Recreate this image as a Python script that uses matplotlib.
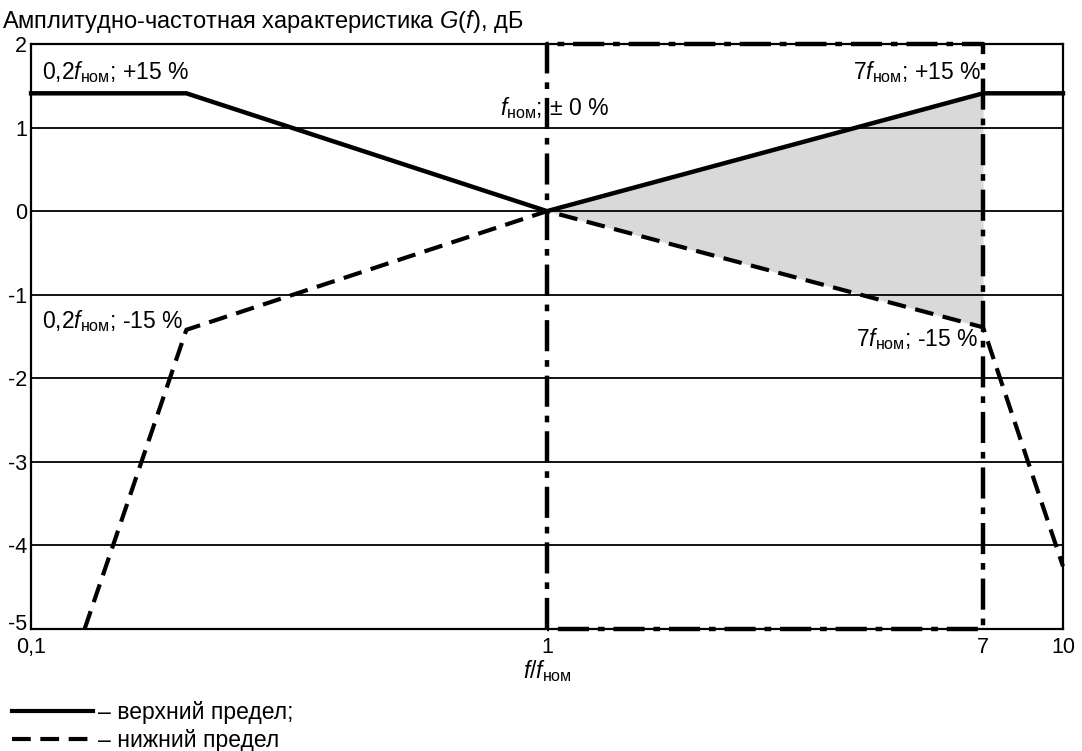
import matplotlib
matplotlib.use("Agg")
import matplotlib.pyplot as plt
import matplotlib.transforms as mtransforms
from matplotlib.lines import Line2D

plt.rcParams['font.family'] = ['Liberation Sans', 'DejaVu Sans']
plt.rcParams['mathtext.fontset'] = 'custom'
plt.rcParams['mathtext.rm'] = 'Liberation Sans'
plt.rcParams['mathtext.it'] = 'Liberation Sans:italic'

# data
upper_x = [0.1, 0.2, 1, 7, 10]
upper_y = [1.41, 1.41, 0, 1.41, 1.41]
lower_x = [0.127, 0.2, 1, 7, 10]
lower_y = [-5, -1.42, 0, -1.39, -4.25]
band_x = [1, 7]
band_hi = [0, 1.41]
band_lo = [0, -1.39]
box_x = [1, 1, 7, 7, 1]
box_y = [-5, 2, 2, -5, -5]
xticks = [0.1, 1, 7, 10]
xticklabels = ['0,1', '1', '7', '10']
yticks = [2, 1, 0, -1, -2, -3, -4, -5]
yticklabels = ['2', '1', '0', '-1', '-2', '-3', '-4', '-5']

F = r'$\mathit{f}_{\mathrm{ном}}$'
DASH = (0, (4.5, 2.3))

fig = plt.figure(figsize=(10.82, 7.51), dpi=100)
ax = fig.add_axes([0.0287, 0.1625, 0.9537, 0.7789])
ax.set_xscale('log')
ax.set_xlim(0.1, 10)
ax.set_ylim(-5, 2)

for y in yticks[1:-1]:
    ax.axhline(y, color='black', lw=1.3, zorder=1)

ax.fill_between(band_x, band_lo, band_hi, color='#d9d9d9', lw=0, zorder=0)
ax.plot(box_x, box_y, color='black', lw=3.2, ls=(0, (7, 2.0, 1.5, 2.0)),
        zorder=3, clip_on=False)
ax.plot(upper_x, upper_y, color='black', lw=3.2, zorder=4, clip_on=False)
ax.plot(lower_x, lower_y, color='black', lw=3, ls=DASH, zorder=4,
        clip_on=False)

for s in ax.spines.values():
    s.set_linewidth(1.6)
ax.set_xticks(xticks)
ax.set_xticklabels(xticklabels)
ax.xaxis.set_minor_locator(matplotlib.ticker.NullLocator())
ax.set_yticks(yticks)
ax.set_yticklabels(yticklabels)
ax.tick_params(length=0, labelsize=15.5)
ax.tick_params(axis='y', pad=3)
ax.tick_params(axis='x', pad=6)
# the lowest y label sits a little above its line, clear of "0,1"
lab = ax.get_yticklabels()[-1]
lab.set_transform(lab.get_transform() +
                  mtransforms.ScaledTranslation(0, 5 / 72, fig.dpi_scale_trans))

fs = 16.5
ax.text(0.105, 1.58, '0,2' + F + '; +15 %', fontsize=fs, va='baseline')
ax.text(6.95, 1.58, '7' + F + '; +15 %', fontsize=fs, va='baseline', ha='right')
ax.text(0.978, 1.15, F + ';', fontsize=fs, va='baseline', ha='right')
ax.text(1.012, 1.15, '± 0 %', fontsize=fs, va='baseline')
ax.text(0.105, -1.40, '0,2' + F + '; -15 %', fontsize=fs, va='baseline')
ax.text(6.85, -1.62, '7' + F + '; -15 %', fontsize=fs, va='baseline', ha='right')

tr = mtransforms.blended_transform_factory(ax.transData, fig.transFigure)
ax.text(1, 0.107, r'$\mathit{f/f}_{\mathrm{ном}}$', fontsize=fs,
        ha='center', va='center', transform=tr)

fig.text(0.002, 0.99, 'Амплитудно-частотная характеристика ' +
         r'$\mathit{G}$($\mathit{f}$), дБ', fontsize=17, va='top')

handles = [Line2D([], [], color='black', lw=3),
           Line2D([], [], color='black', lw=3, ls=DASH)]
fig.legend(handles, ['– верхний предел;', '– нижний предел'],
           loc='lower left', bbox_to_anchor=(0.003, -0.013), frameon=False,
           fontsize=fs, handlelength=3.5, handletextpad=0.25,
           labelspacing=0.2, borderaxespad=0.2, borderpad=0.2)

fig.savefig('out.png', dpi=100)
